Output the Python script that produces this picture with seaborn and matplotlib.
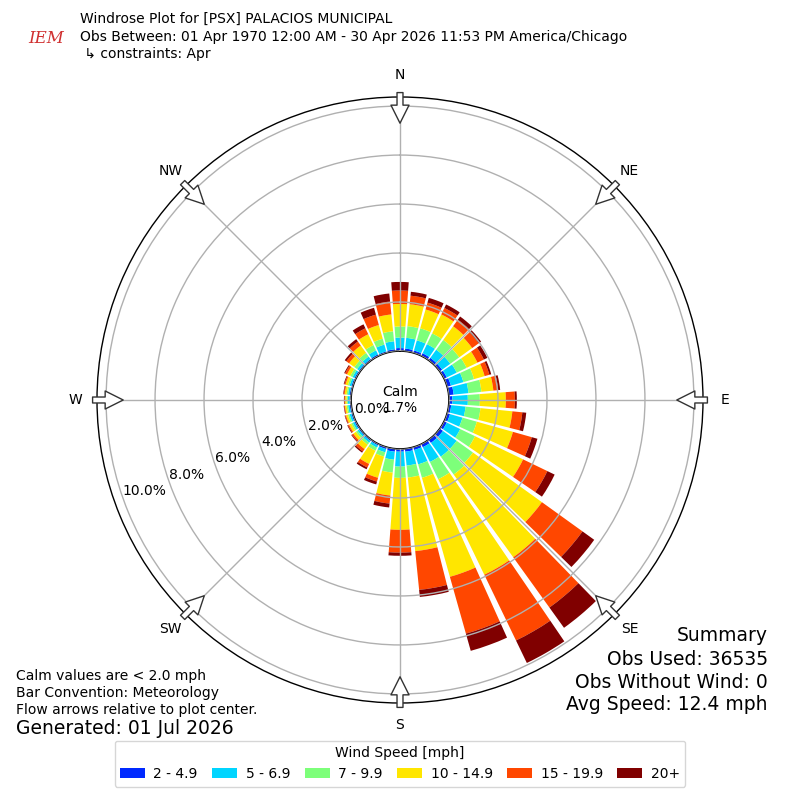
import numpy as np
import matplotlib
matplotlib.use('Agg')
import matplotlib.pyplot as plt
import seaborn as sns

# direction bins (degrees, meteorological: direction wind comes from)
directions = list(range(0, 360, 10))

speed_bins = ['2 - 4.9', '5 - 6.9', '7 - 9.9', '10 - 14.9', '15 - 19.9', '20+']

# frequency (%) per direction for each speed bin
pct_2_49 = [.12, .11, .10, .12, .12, .12, .12, .16, .20, .14, .10, .12,
            .12, .16, .16, .14, .12, .12, .11, .12, .08, .06, .06, .06,
            .06, .06, .06, .06, .06, .06, .06, .06, .06, .07, .06, .08]
pct_5_69 = [.43, .44, .43, .41, .41, .41, .45, .53, .61, .63, .59, .53,
            .61, .69, .69, .67, .61, .57, .61, .33, .14, .10, .09, .08,
            .08, .08, .07, .07, .07, .08, .09, .10, .13, .18, .29, .33]
pct_7_99 = [.45, .48, .51, .49, .49, .45, .45, .45, .53, .49, .61, .61,
            .67, .82, .90, .78, .57, .49, .46, .53, .18, .14, .10, .08,
            .07, .07, .06, .05, .06, .07, .10, .14, .18, .24, .25, .41]
pct_10_149 = [.92, .90, .80, .86, .69, .65, .49, .45, .49, 1.06, 1.31, 1.53,
              2.18, 3.47, 4.16, 4.33, 4.20, 3.02, 2.12, .94, .90, .60, .22, .13,
              .10, .08, .07, .06, .08, .10, .15, .26, .37, .49, .58, .69]
pct_15_199 = [.55, .35, .29, .29, .33, .33, .29, .20, .20, .37, .41, .80,
              1.10, 2.04, 2.53, 2.98, 2.41, 1.59, .93, .33, .16, .16, .12, .07,
              .05, .04, .03, .03, .04, .05, .09, .14, .20, .27, .44, .53]
pct_20p = [.35, .16, .20, .16, .16, .12, .16, .08, .08, .08, .16, .24,
           .33, .59, 1.02, 1.02, .73, .29, .13, .16, .12, .08, .06, .03,
           .03, .02, .02, .02, .02, .03, .04, .08, .12, .18, .29, .33]

series = [pct_2_49, pct_5_69, pct_7_99, pct_10_149, pct_15_199, pct_20p]

compass_angles = [0, 45, 90, 135, 180, 225, 270, 315]
compass_labels = ['N', 'NE', 'E', 'SE', 'S', 'SW', 'W', 'NW']
ring_ticks = [0, 2, 4, 6, 8, 10]
calm_pct = 1.7

sns.set_style('white')
plt.rcParams['font.family'] = ['DejaVu Sans']
plt.rcParams['text.color'] = 'black'
plt.rcParams['xtick.color'] = 'black'
plt.rcParams['ytick.color'] = 'black'

colors = plt.cm.jet(np.linspace(1 / 6, 1, 6))

fig = plt.figure(figsize=(8, 8), dpi=100)
ax = fig.add_axes([0.12125, 0.12125, 0.7575, 0.7575], projection='polar')
ax.set_theta_zero_location('N')
ax.set_theta_direction(-1)

theta = np.radians(directions)
bottom = np.zeros(len(directions))
for label, vals, color in zip(speed_bins, series, colors):
    sns.barplot(x=theta, y=vals, ax=ax, native_scale=True, width=0.85,
                color=color, saturation=1, errorbar=None, bottom=bottom,
                label=label, linewidth=0)
    bottom = bottom + np.array(vals)

ax.set_ylim(0, 10.37)
ax.set_rorigin(-2)

# compass labels and rings
ax.set_xticks(np.radians(compass_angles))
ax.set_xticklabels(compass_labels, fontsize=10)
ax.tick_params(axis='x', pad=5, colors='black')
ax.set_yticks(ring_ticks)
ax.set_yticklabels([f'{v:.1f}%' for v in ring_ticks], fontsize=10)
ax.tick_params(axis='y', colors='black')
ax.set_rlabel_position(250.5)
ax.set_xlabel('')
ax.set_ylabel('')
ax.grid(True, color='#b0b0b0', linewidth=1)
ax.set_axisbelow(False)
ax.spines['polar'].set_color('black')
ax.spines['polar'].set_linewidth(1)
ax.spines['inner'].set_color('black')
ax.spines['inner'].set_linewidth(1.2)
ax.spines['inner'].set_visible(True)

# flow arrows
for ang in compass_angles:
    ax.annotate('', xy=(np.radians(ang), 9.3), xytext=(np.radians(ang), 10.55),
                arrowprops=dict(arrowstyle='simple,head_length=1,head_width=1,tail_width=0.33',
                                mutation_scale=13, fc='white', ec='#333333', lw=1,
                                shrinkA=0, shrinkB=0),
                annotation_clip=False, zorder=5)

ax.text(0.5, 0.5, f'Calm\n{calm_pct}%', transform=ax.transAxes, ha='center',
        va='center', fontsize=10, zorder=6)

# legend
handles, labels = ax.get_legend_handles_labels()
if ax.get_legend() is not None:
    ax.get_legend().remove()
fig.legend(handles, labels, loc='lower center', bbox_to_anchor=(0.5, 0.008),
           ncol=6, title='Wind Speed [mph]', fontsize=10, title_fontsize=10,
           handlelength=1.8, handletextpad=0.6, columnspacing=1.05)

# header
fig.text(0.1, 0.976, 'Windrose Plot for [PSX] PALACIOS MUNICIPAL', fontsize=10, va='center')
fig.text(0.1, 0.954, 'Obs Between: 01 Apr 1970 12:00 AM - 30 Apr 2026 11:53 PM America/Chicago',
         fontsize=10, va='center')
fig.text(0.1, 0.9325, ' \u21b3 constraints: Apr', fontsize=10, va='center')
fig.text(0.035, 0.952, 'IEM', color='#d03030', fontstyle='italic', family='DejaVu Serif',
         fontsize=12, va='center')

# footer notes
fig.text(0.02, 0.155, 'Calm values are < 2.0 mph', fontsize=10, va='center')
fig.text(0.02, 0.134, 'Bar Convention: Meteorology', fontsize=10, va='center')
fig.text(0.02, 0.1125, 'Flow arrows relative to plot center.', fontsize=10, va='center')
fig.text(0.02, 0.089, 'Generated: 01 Jul 2026', fontsize=13.5, va='center')

fig.text(0.96, 0.206, 'Summary', fontsize=13.5, ha='right', va='center')
fig.text(0.96, 0.176, 'Obs Used: 36535', fontsize=13.5, ha='right', va='center')
fig.text(0.96, 0.1475, 'Obs Without Wind: 0', fontsize=13.5, ha='right', va='center')
fig.text(0.96, 0.119, 'Avg Speed: 12.4 mph', fontsize=13.5, ha='right', va='center')

fig.savefig('out.png', dpi=100)
